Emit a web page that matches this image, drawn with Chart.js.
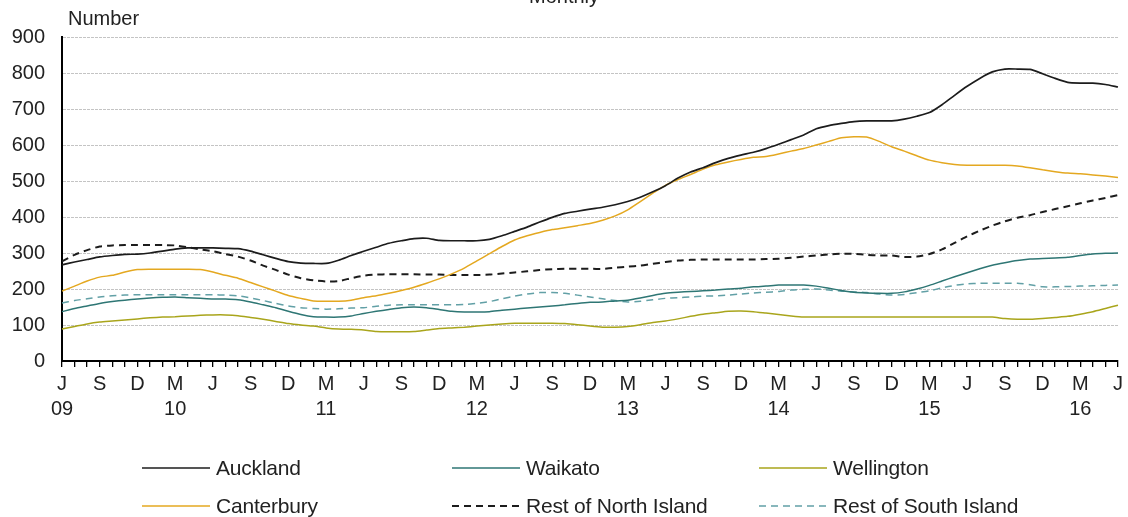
<!DOCTYPE html>
<html>
<head>
<meta charset="utf-8">
<script src="https://cdn.jsdelivr.net/npm/chart.js@4.4.0/dist/chart.umd.min.js"></script>
<style>
html, body { margin: 0; padding: 0; background: #fff; }
#wrap { position: relative; width: 1128px; height: 517px; overflow: hidden; font-family: "Liberation Sans", Arial, sans-serif; color: #222; }
#chart { position: absolute; left: 0; top: 0; }
.title { position: absolute; top: -15px; left: 0; width: 1128px; text-align: center; font-size: 20px; }
.unit { position: absolute; left: 68px; top: 7px; font-size: 20px; }
.leg { position: absolute; font-size: 21px; display: flex; align-items: center; white-space: nowrap; letter-spacing: -0.2px; }
.leg svg { margin-right: 6px; }
</style>
</head>
<body>
<div id="wrap">
  <canvas id="chart" width="1128" height="517"></canvas>
  <div class="title">Monthly</div>
  <div class="unit">Number</div>
  <div id="legend"></div>
</div>
<script>
// Monthly series, June 2009 to June 2016
const startYear = 2009;
const startMonth = 6;
const monthLetters = ['J', 'F', 'M', 'A', 'M', 'J', 'J', 'A', 'S', 'O', 'N', 'D'];
const tickMonths = [3, 6, 9, 12];          // M, J, S, D get a label
const yearTickMonth = 3;                    // year printed under March
const yTicks = [0, 100, 200, 300, 400, 500, 600, 700, 800, 900];

const seriesNames = ['Auckland', 'Waikato', 'Wellington', 'Canterbury', 'Rest of North Island', 'Rest of South Island'];

const auckland = [
  267, 275, 282, 289, 293, 296, 297, 300, 305, 311, 314, 314,
  314, 313, 312, 305, 295, 285, 276, 272, 271, 271, 280, 293,
  305, 316, 327, 334, 340, 341, 335, 334, 334, 334, 338, 348,
  360, 372, 386, 399, 410, 416, 422, 427, 434, 443, 455, 470,
  487, 508, 525, 537, 551, 563, 572, 580, 590, 602, 615, 628,
  645, 654, 660, 665, 667, 667, 667, 672, 680, 690, 712, 738,
  763, 785, 803, 811, 811, 810, 798, 785, 774, 772, 772, 768,
  761
];
const waikato = [
  137, 146, 153, 160, 165, 169, 172, 175, 177, 178, 176, 174,
  172, 172, 170, 164, 156, 148, 138, 129, 123, 122, 122, 125,
  132, 138, 143, 148, 150, 148, 143, 138, 136, 136, 137, 141,
  144, 147, 150, 153, 156, 160, 163, 164, 167, 169, 175, 182,
  188, 191, 193, 195, 197, 200, 202, 206, 208, 211, 211, 211,
  208, 202, 196, 191, 189, 188, 188, 192, 200, 210, 222, 234,
  245, 256, 266, 273, 279, 283, 285, 286, 288, 293, 297, 299,
  300
];
const wellington = [
  89, 96, 103, 108, 111, 114, 117, 120, 122, 123, 125, 127,
  128, 128, 126, 121, 116, 110, 104, 100, 97, 92, 89, 88,
  86, 82, 81, 81, 82, 86, 90, 92, 94, 97, 100, 103,
  105, 105, 105, 105, 104, 101, 97, 94, 94, 96, 101, 107,
  111, 117, 124, 130, 134, 138, 139, 137, 133, 129, 125, 122,
  122, 122, 122, 122, 122, 122, 122, 122, 122, 122, 122, 122,
  122, 122, 122, 118, 116, 116, 118, 121, 124, 130, 137, 146,
  155
];
const canterbury = [
  194, 208, 222, 233, 238, 247, 254, 255, 255, 255, 255, 254,
  247, 238, 230, 218, 206, 194, 182, 174, 167, 166, 166, 169,
  176, 181, 188, 196, 205, 216, 228, 242, 258, 278, 298, 318,
  336, 348, 357, 365, 370, 376, 382, 391, 403, 420, 443, 466,
  488, 504, 518, 533, 545, 553, 560, 566, 568, 575, 583, 590,
  600, 610, 620, 623, 622, 610, 595, 583, 570, 558, 551, 546,
  544, 544, 544, 544, 542, 537, 531, 526, 522, 520, 517, 514,
  510
];
const restNorth = [
  277, 295, 308, 318, 321, 322, 322, 322, 322, 321, 316, 310,
  305, 297, 290, 279, 265, 253, 240, 230, 224, 221, 222, 230,
  237, 240, 241, 241, 241, 240, 240, 239, 239, 239, 240, 243,
  246, 249, 253, 255, 256, 256, 256, 256, 259, 262, 265, 270,
  275, 279, 281, 282, 282, 282, 282, 282, 283, 284, 287, 290,
  293, 296, 298, 298, 295, 293, 293, 289, 290, 297, 310, 328,
  346, 362, 376, 388, 398, 405, 414, 422, 430, 438, 446, 453,
  461
];
const restSouth = [
  161, 168, 173, 178, 181, 183, 184, 184, 184, 184, 184, 184,
  184, 183, 181, 175, 168, 160, 153, 148, 146, 144, 145, 147,
  148, 152, 155, 156, 156, 156, 156, 156, 157, 160, 165, 173,
  180, 186, 190, 190, 188, 183, 178, 173, 168, 164, 166, 170,
  174, 176, 178, 180, 181, 183, 186, 189, 191, 193, 197, 199,
  200, 197, 194, 192, 190, 186, 183, 185, 190, 195, 203, 210,
  214, 216, 216, 216, 216, 212, 206, 206, 207, 208, 209, 210,
  211
];

const lineColors = ['#1c1c1c', '#2e7674', '#a9a51b', '#e4a820', '#1c1c1c', '#62a0a6'];
const lineDashes = [[], [], [], [], [7, 5], [7, 5]];
const lineWidths = [1.7, 1.5, 1.5, 1.5, 2, 1.5];
const seriesData = [auckland, waikato, wellington, canterbury, restNorth, restSouth];

// categories: one per month
const months = [];
for (let i = 0; i < auckland.length; i++) {
  const m = (startMonth - 1 + i) % 12 + 1;
  const y = startYear + Math.floor((startMonth - 1 + i) / 12);
  months.push({ m: m, y: y });
}
const labels = months.map(d => d.y + '-' + String(d.m).padStart(2, '0'));

function tickLabel(i) {
  const d = months[i];
  if (!tickMonths.includes(d.m)) return '';
  const letter = monthLetters[d.m - 1];
  if (i === 0 || d.m === yearTickMonth) return [letter, String(d.y).slice(2)];
  return letter;
}

const font = "'Liberation Sans', Arial, sans-serif";

const datasets = seriesNames.map((name, i) => ({
  label: name,
  data: seriesData[i],
  borderColor: lineColors[i],
  borderWidth: lineWidths[i],
  borderDash: lineDashes[i],
  pointRadius: 0,
  fill: false,
  tension: 0.2
}));

new Chart(document.getElementById('chart'), {
  type: 'line',
  data: { labels: labels, datasets: datasets },
  options: {
    responsive: false,
    animation: false,
    layout: { padding: { top: 37, right: 8, bottom: 96, left: 0 } },
    plugins: { legend: { display: false }, tooltip: { enabled: false } },
    scales: {
      x: {
        offset: false,
        grid: { drawOnChartArea: false, drawTicks: true, tickLength: 6, color: '#000', lineWidth: 1.3 },
        border: { color: '#000', width: 2 },
        ticks: {
          autoSkip: false, maxRotation: 0, padding: 5, color: '#222',
          font: { family: font, size: 20, lineHeight: 1.25 },
          callback: (v, i) => tickLabel(i)
        },
        afterFit: s => { s.height = 60; }
      },
      y: {
        min: 0, max: 900,
        afterBuildTicks: s => { s.ticks = yTicks.map(v => ({ value: v })); },
        grid: { color: '#c4c4c4', drawTicks: false, lineWidth: 1 },
        border: { color: '#000', width: 2, dash: [3, 1] },
        ticks: { padding: 17, color: '#222', font: { family: font, size: 20 } },
        afterFit: s => { s.width = 62; }
      }
    }
  }
});

// legend: three columns, two rows
const legCols = [142, 452, 759];
const legRows = [468, 506];
const legend = document.getElementById('legend');
datasets.forEach((ds, i) => {
  const el = document.createElement('div');
  el.className = 'leg';
  el.style.left = legCols[i % 3] + 'px';
  el.style.top = (legRows[Math.floor(i / 3)] - 13) + 'px';
  el.style.height = '26px';
  const dash = ds.borderDash.length ? ` stroke-dasharray="${ds.borderDash.join(',')}"` : '';
  el.innerHTML = `<svg width="68" height="4"><line x1="0" y1="2" x2="68" y2="2" stroke="${ds.borderColor}" stroke-width="${ds.borderWidth}"${dash}/></svg><span>${ds.label}</span>`;
  legend.appendChild(el);
});
</script>
</body>
</html>
